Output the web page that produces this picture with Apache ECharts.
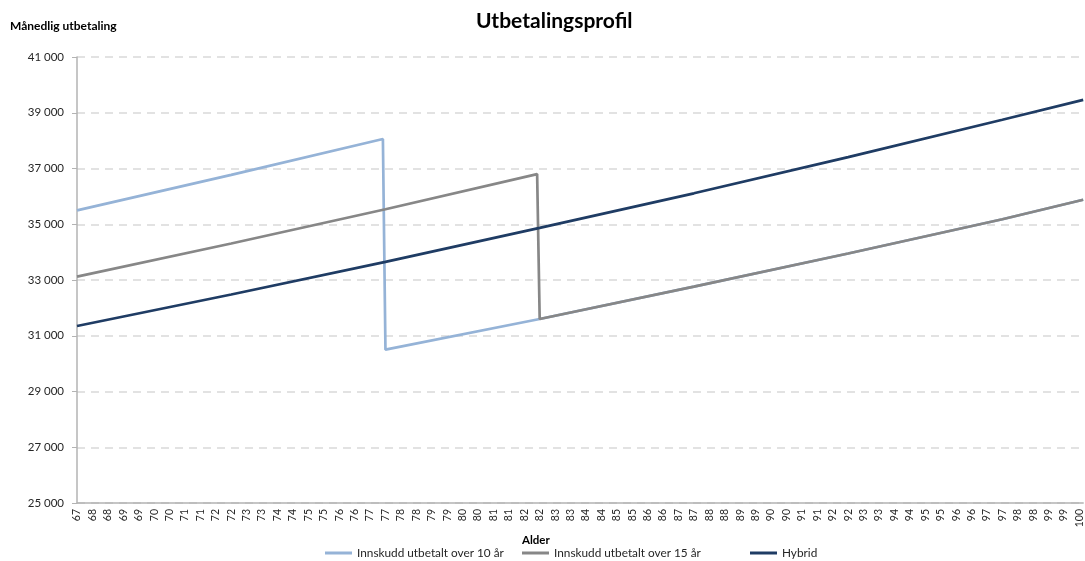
<!DOCTYPE html>
<html>
<head>
<meta charset="utf-8">
<title>Utbetalingsprofil</title>
<script src="https://cdn.jsdelivr.net/npm/echarts@6/dist/echarts.min.js"></script>
<style>
  html, body { margin: 0; padding: 0; background: #ffffff; }
  #chart { width: 1085px; height: 561px; }
</style>
</head>
<body>
<div id="chart"></div>
<script>
// Monthly payout (NOK) by age for three payout profiles.
// Ages are in years; the drops happen at the end of each payout period.
const age10 = [67, 72, 76.917, 77, 82, 87, 92, 97, 99.62];
const val10 = [35500, 36770, 38060, 30500, 31600, 32760, 33950, 35180, 35880];

const age15 = [67, 72, 77, 81.917, 82, 87, 92, 97, 99.62];
const val15 = [33120, 34310, 35540, 36800, 31600, 32760, 33950, 35180, 35880];

const ageHybrid = [67, 72, 77, 82, 87, 92, 97, 99.62];
const valHybrid = [31350, 32480, 33650, 34870, 36110, 37410, 38750, 39460];

const seriesNames = ['Innskudd utbetalt over 10 år', 'Innskudd utbetalt over 15 år', 'Hybrid'];

// Half-year ticks from 67 to 99.5, labelled with the rounded age
const xTickLabels = ['67',
  '68','68','69','69','70','70','71','71','72','72','73','73','74','74','75','75',
  '76','76','77','77','78','78','79','79','80','80','81','81','82','82','83','83',
  '84','84','85','85','86','86','87','87','88','88','89','89','90','90','91','91',
  '92','92','93','93','94','94','95','95','96','96','97','97','98','98','99','99',
  '100'];
const yTickLabels = ['25 000', '27 000', '29 000', '31 000', '33 000', '35 000', '37 000', '39 000', '41 000'];

const FONT = 'Lato, "Noto Sans", sans-serif';
const colors = ['#95b3d7', '#878787', '#1f3c64'];

function pairs(xs, ys) { return xs.map((x, i) => [x, ys[i]]); }

const chart = echarts.init(document.getElementById('chart'), null, { renderer: 'canvas' });

const legendBase = {
  orient: 'horizontal',
  top: 547,
  itemWidth: 27,
  itemHeight: 3,
  padding: 0,
  icon: 'rect',
  textStyle: { fontFamily: FONT, fontSize: 11.8, color: '#262626' }
};

chart.setOption({
  animation: false,
  color: colors,
  textStyle: { fontFamily: FONT },
  title: [
    { text: 'Utbetalingsprofil', left: 476, top: 11, padding: 0,
      textStyle: { fontFamily: FONT, fontSize: 21, fontWeight: 'bold', color: '#000' } },
    { text: 'Månedlig utbetaling', left: 10, top: 20, padding: 0,
      textStyle: { fontFamily: FONT, fontSize: 12, fontWeight: 'bold', color: '#000' } },
    { text: 'Alder', left: 522, top: 534, padding: 0,
      textStyle: { fontFamily: FONT, fontSize: 11.5, fontWeight: 'bold', color: '#000' } }
  ],
  legend: [
    Object.assign({}, legendBase, { left: 325, data: [seriesNames[0]] }),
    Object.assign({}, legendBase, { left: 522, data: [seriesNames[1]] }),
    Object.assign({}, legendBase, { left: 750, data: [seriesNames[2]] })
  ],
  grid: { left: 77, right: 0, top: 57, bottom: 58, containLabel: false },
  xAxis: {
    type: 'value',
    min: 67,
    max: 99.62,
    interval: 0.5,
    axisLine: { show: true, onZero: false, lineStyle: { color: '#b3b3b3', width: 1.5 } },
    axisTick: { show: false },
    splitLine: { show: false },
    axisLabel: {
      rotate: 90,
      margin: 6,
      fontSize: 10.5,
      color: '#262626',
      fontFamily: FONT,
      showMaxLabel: false,
      formatter: function (v) {
        const k = Math.round((v - 67) / 0.5);
        return xTickLabels[k] !== undefined ? xTickLabels[k] : '';
      }
    }
  },
  yAxis: {
    type: 'value',
    min: 25000,
    max: 41000,
    interval: 2000,
    axisLine: { show: true, lineStyle: { color: '#b3b3b3', width: 1.5 } },
    axisTick: { show: true, length: 5, lineStyle: { color: '#b3b3b3', width: 1 } },
    splitLine: { show: true, lineStyle: { color: '#d9d9d9', width: 1.5, type: [8, 6] } },
    axisLabel: {
      margin: 13,
      fontSize: 11.5,
      color: '#262626',
      fontFamily: FONT,
      formatter: function (v) {
        const k = Math.round((v - 25000) / 2000);
        return yTickLabels[k] !== undefined ? yTickLabels[k] : '';
      }
    }
  },
  series: [
    { name: seriesNames[0], type: 'line', data: pairs(age10, val10), showSymbol: false, symbol: 'none',
      lineStyle: { width: 2.7, color: colors[0] }, z: 2 },
    { name: seriesNames[1], type: 'line', data: pairs(age15, val15), showSymbol: false, symbol: 'none',
      lineStyle: { width: 2.7, color: colors[1] }, z: 3 },
    { name: seriesNames[2], type: 'line', data: pairs(ageHybrid, valHybrid), showSymbol: false, symbol: 'none',
      lineStyle: { width: 2.7, color: colors[2] }, z: 4 }
  ]
});
</script>
</body>
</html>
